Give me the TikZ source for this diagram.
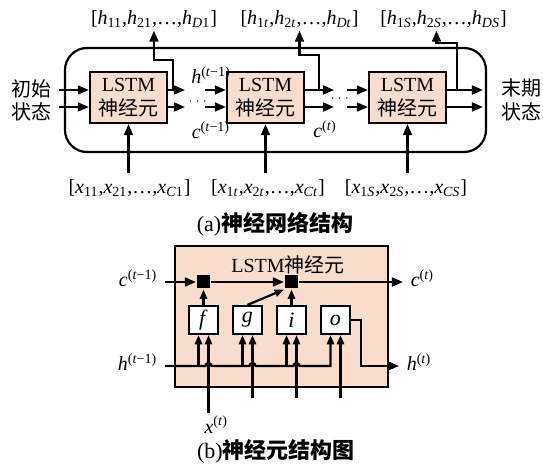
\documentclass[tikz,border=0pt]{standalone}
\usepackage{amsmath}
\usepackage{fontspec}
\setmainfont{Liberation Serif}
\newfontfamily\cjk{Noto Sans CJK SC}
\usetikzlibrary{arrows.meta, positioning, calc}
\definecolor{cellfill}{RGB}{248,221,205}
\newcommand\vsub[2]{\textit{#1}\textsubscript{#2}}
\newcommand\vsup[2]{\textit{#1}\textsuperscript{#2}}

\begin{document}
\begin{tikzpicture}[x=0.5pt, y=-0.5pt, line width=1.1pt, node distance=22pt, on grid,
    >={Triangle[length=5.5pt, width=4.4pt]},
    every node/.style={font=\fontsize{10}{12}\selectfont},
    cell/.style={draw, fill=cellfill, minimum width=38.5pt, minimum height=25.5pt,
        align=center, inner sep=1pt},
    gate/.style={draw, fill=white, minimum width=14.5pt, minimum height=14pt,
        inner sep=0pt, font=\fontsize{11}{12}\selectfont},
    mult/.style={fill=black, minimum size=6.5pt, inner sep=0pt},
    tip/.style={>={Triangle[length=4.6pt, width=3.6pt]}},
    vec/.style={inner sep=1pt, font=\fontsize{10}{12}\selectfont},
    dots/.style={inner sep=0pt, font=\fontsize{6}{7}\selectfont},
    captext/.style={font=\fontsize{11}{13}\selectfont}]

\useasboundingbox (0,0) rectangle (543,466);

% (a)
\draw[rounded corners=11pt] (65,48) rectangle (486,152);

\node[cell] (n1) at (128.5,97.5) {LSTM\\{\cjk 神经元}};
\node[cell] (n2) at (265.5,97.5) {LSTM\\{\cjk 神经元}};
\node[cell] (n3) at (407.5,97.5) {LSTM\\{\cjk 神经元}};

\node (s1) at (31,89) {\cjk 初始};
\node (s2) at (31,112) {\cjk 状态};
\node (t1) at (522,88) {\cjk 末期};
\node (t2) at (522,112) {\cjk 状态};

\node[vec] (o1) at (154,19) {[\vsub{h}{11},\vsub{h}{21},\ldots,\vsub{h}{\textit{D}1}]};
\node[vec] (o2) at (299.5,19) {[\vsub{h}{1\textit{t}},\vsub{h}{2\textit{t}},\ldots,\vsub{h}{\textit{Dt}}]};
\node[vec] (o3) at (443.5,19) {[\vsub{h}{1\textit{S}},\vsub{h}{2\textit{S}},\ldots,\vsub{h}{\textit{DS}}]};
\node[vec] (x1) at (129.5,188) {[\vsub{x}{11},\vsub{x}{21},\ldots,\vsub{x}{\textit{C}1}]};
\node[vec] (x2) at (268,188) {[\vsub{x}{1\textit{t}},\vsub{x}{2\textit{t}},\ldots,\vsub{x}{\textit{Ct}}]};
\node[vec] (x3) at (406,188) {[\vsub{x}{1\textit{S}},\vsub{x}{2\textit{S}},\ldots,\vsub{x}{\textit{CS}}]};

\node (hp) at (211,75) {\vsup{h}{(\textit{t}−1)}};
\node (cp) at (211,130) {\vsup{c}{(\textit{t}−1)}};
\node (ct) at (325,129) {\vsup{c}{(\textit{t})}};
\node[dots] (d1) at (199,102) {$\cdots$};
\node[dots] (d2) at (341,99) {$\cdots$};

\coordinate (yh) at (0,90);
\coordinate (yc) at (0,107);
\coordinate (e1) at (185,0);
\coordinate (e2) at (334,0);
\coordinate (e3) at (483,0);
\coordinate (b2) at (205,0);
\coordinate (b3) at (347,0);
\coordinate (j1) at (173,60);
\coordinate (j2) at (319,55);
\coordinate (j3) at (457,43);

\draw[->] (s1.east|-yh) -- (n1.west|-yh);
\draw[->] (s2.east|-yc) -- (n1.west|-yc);
\foreach \y in {yh,yc} {
  \draw[->] (n1.east|-\y) -- (e1|-\y);
  \draw[->] (b2|-\y) -- (n2.west|-\y);
  \draw[->] (n2.east|-\y) -- (e2|-\y);
  \draw[->] (b3|-\y) -- (n3.west|-\y);
  \draw[->] (n3.east|-\y) -- (e3|-\y);
}
\draw[->] (j1|-yh) -- (j1) -| (o1.south);
\draw[->] (j2|-yh) -- (j2) -| (o2.south);
\draw[->] (j3|-yh) -- (j3) -| ([xshift=-3.5pt]o3.south);
\foreach \n in {1,2,3}
  \draw[->] ($(n\n.south)+(0,49)$) -- (n\n.south);

\node[captext] (capa) at (275,224) {(a){\cjk\bfseries 神经网络结构}};

% (b)
\node[cell, minimum width=106.5pt, minimum height=70.5pt] (cb) at (281.5,316.5) {};
\node (ttl) at (288,265) {LSTM{\cjk 神经元}};
\node[gate] (f) at (203.5,320) {\textit{f}};
\node[gate, right=of f] (g) {\textit{g}};
\node[gate, right=of g] (i) {\textit{i}};
\node[gate, right=of i] (o) {\textit{o}};
\node[mult, above=19pt of f] (m1) {};
\node[mult, above=19pt of i] (m2) {};

\node[anchor=mid east] (cpv) at (165,282) {\vsup{c}{(\textit{t}−1)}};
\node[anchor=mid west] (cnx) at (403,282) {\vsup{c}{(\textit{t})}};
\node[anchor=mid east] (hpv) at (165,366) {\vsup{h}{(\textit{t}−1)}};
\node[anchor=mid west] (hnx) at (399,366) {\vsup{h}{(\textit{t})}};
\coordinate (xf) at ($(f.south)+(5,78)$);
\node[anchor=north west, inner sep=1pt] (xin) at ($(xf)+(-7,0)$) {\vsup{x}{(\textit{t})}};

\draw[->] (cpv.mid east) -- (m1);
\draw[->] (m1) -- (m2);
\draw[->] (m2) -- (cnx.mid west);
\draw[->, tip] (f) -- (m1);
\draw[->, tip] (i) -- (m2);
\draw[->, tip] (g.north) -- (m2.south west);
\draw[->, tip] (hpv.mid east) foreach \gt in {f,g,i} {
    -- ($(\gt.south|-hpv.mid east)+(2,0)$) arc[start angle=180, end angle=360, radius=3] }
  -| ($(o.south)+(-5,0)$);
\foreach \gt in {f,g,i}
  \draw[->, tip] ($(\gt.south)+(-5,32)$) -- ($(\gt.south)+(-5,0)$);
\foreach \gt in {g,i,o}
  \draw[->, tip] ($(\gt.south)+(5,63)$) -- ($(\gt.south)+(5,0)$);
\draw[->, tip] (xf) -- ($(f.south)+(5,0)$);
\draw[->] (o.east) -- ++(10,0) |- (hnx.mid west);

\node[captext] (capb) at (276,451) {(b){\cjk\bfseries 神经元结构图}};
\end{tikzpicture}
\end{document}
